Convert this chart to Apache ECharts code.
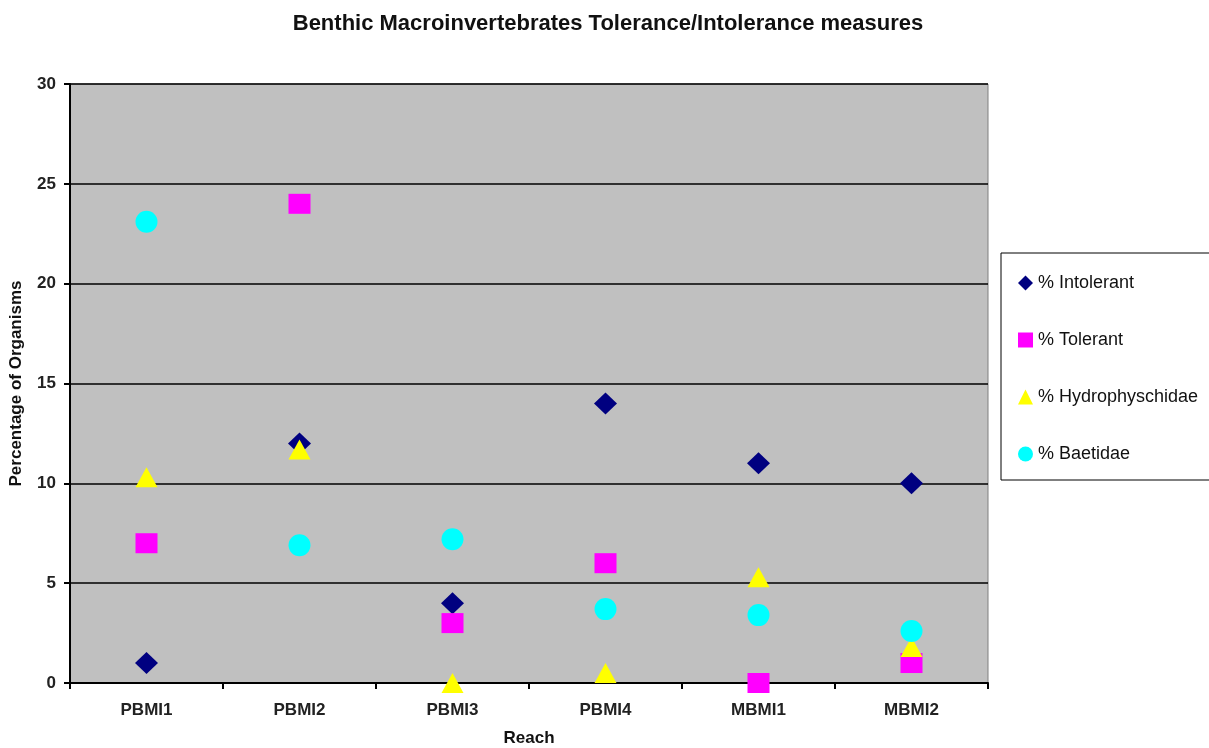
<!DOCTYPE html>
<html>
<head>
<meta charset="utf-8">
<script src="https://cdn.jsdelivr.net/npm/echarts@6/dist/echarts.min.js"></script>
<style>
  html, body { margin: 0; padding: 0; background: #fff; }
  #chart { width: 1209px; height: 748px; }
</style>
</head>
<body>
<div id="chart"></div>
<script>
// data
const reaches = ['PBMI1', 'PBMI2', 'PBMI3', 'PBMI4', 'MBMI1', 'MBMI2']
const intolerant = [1, 12, 4, 14, 11, 10]
const tolerant = [7, 24, 3, 6, 0, 1]
const hydrophyschidae = [10.3, 11.7, 0, 0.5, 5.3, 1.8]
const baetidae = [23.1, 6.9, 7.2, 3.7, 3.4, 2.6]

const chart = echarts.init(document.getElementById('chart'))

const font = 'Arial, "Liberation Sans", sans-serif'

const mkSeries = (name, data, symbol, color, size) => ({
  name,
  type: 'scatter',
  data,
  symbol,
  symbolSize: size,
  itemStyle: { color, opacity: 1 },
  emphasis: { disabled: true },
})

const option = {
  animation: false,
  title: {
    text: 'Benthic Macroinvertebrates Tolerance/Intolerance measures',
    left: 603,
    top: 8,
    textAlign: 'center',
    textStyle: { fontFamily: font, fontSize: 22, fontWeight: 'bold', color: '#111' },
  },
  grid: {
    left: 70,
    right: 221,
    top: 84,
    bottom: 65,
    outerBoundsMode: 'none',
    show: true,
    backgroundColor: '#c0c0c0',
    borderColor: '#808080',
    borderWidth: 1,
  },
  legend: {
    orient: 'vertical',
    left: 1001,
    top: 253,
    width: 260,
    padding: [21, 60, 17, 17],
    itemGap: 39,
    itemWidth: 15,
    itemHeight: 15,
    borderColor: '#000',
    borderWidth: 1,
    textStyle: { fontFamily: font, fontSize: 18, color: '#111' },
    data: [
      { name: '% Intolerant', icon: 'diamond' },
      { name: '% Tolerant', icon: 'rect' },
      { name: '% Hydrophyschidae', icon: 'triangle' },
      { name: '% Baetidae', icon: 'circle' },
    ],
  },
  xAxis: {
    type: 'category',
    data: reaches,
    boundaryGap: true,
    name: 'Reach',
    nameLocation: 'middle',
    nameGap: 47,
    nameTextStyle: { fontFamily: font, fontSize: 17, fontWeight: 'bold', color: '#111' },
    axisLine: { lineStyle: { color: '#000', width: 2 } },
    axisTick: { show: true, inside: false, length: 6, lineStyle: { color: '#000', width: 2 } },
    axisLabel: { fontFamily: font, fontSize: 17, fontWeight: 'bold', color: '#222', margin: 19 },
    splitLine: { show: false },
  },
  yAxis: {
    type: 'value',
    min: 0,
    max: 30,
    interval: 5,
    name: 'Percentage of Organisms',
    nameLocation: 'middle',
    nameGap: 45,
    nameTextStyle: { fontFamily: font, fontSize: 17, fontWeight: 'bold', color: '#111' },
    axisLine: { show: true, lineStyle: { color: '#000', width: 2 } },
    axisTick: { show: true, inside: false, length: 6, lineStyle: { color: '#000', width: 2 } },
    axisLabel: { fontFamily: font, fontSize: 17, fontWeight: 'bold', color: '#222', margin: 14 },
    splitLine: { show: true, lineStyle: { color: '#000', width: 1.5 } },
  },
  series: [
    mkSeries('% Intolerant', intolerant, 'diamond', '#000080', [23, 22]),
    mkSeries('% Tolerant', tolerant, 'rect', '#ff00ff', [22, 20]),
    mkSeries('% Hydrophyschidae', hydrophyschidae, 'triangle', '#ffff00', [22, 20]),
    mkSeries('% Baetidae', baetidae, 'circle', '#00ffff', 22),
  ],
}

chart.setOption(option)
</script>
</body>
</html>
